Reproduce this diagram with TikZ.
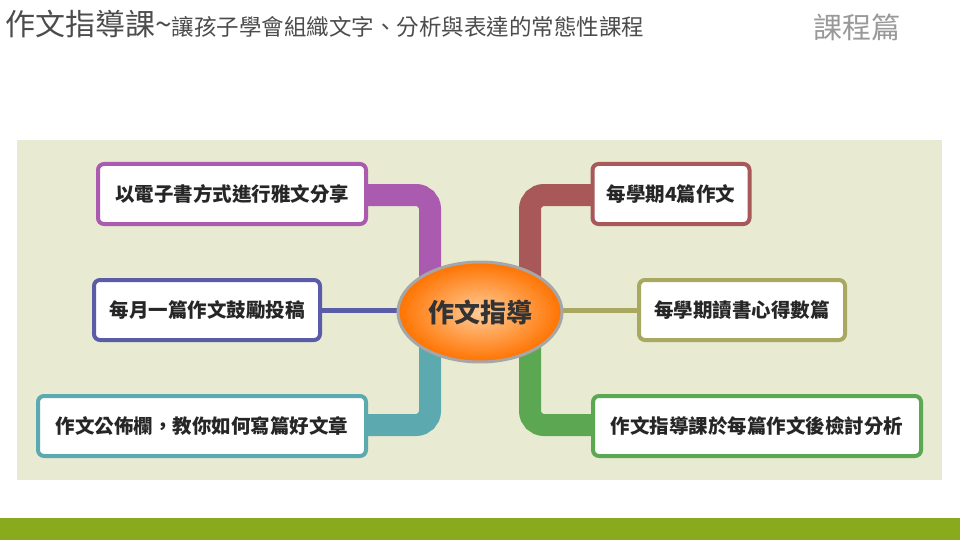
\documentclass[tikz,border=0pt]{standalone}
\usepackage{fontspec}
\newfontfamily\cjk{Noto Sans CJK TC}
\definecolor{cpur}{RGB}{170,90,175}
\definecolor{cteal}{RGB}{92,170,176}
\definecolor{cred}{RGB}{168,88,88}
\definecolor{cgreen}{RGB}{92,168,82}
\definecolor{cblue}{RGB}{90,92,168}
\definecolor{colive}{RGB}{168,168,96}
\definecolor{cpanel}{RGB}{232,235,210}
\definecolor{cbar}{RGB}{138,170,30}
\begin{document}
\begin{tikzpicture}[x=1pt,y=-1pt,
  box/.style={draw=#1,line width=4pt,rounded corners=6pt,fill=white,inner sep=0pt,font=\cjk\bfseries\fontsize{19.5}{22}\selectfont,text=black!85},
  band/.style={draw=#1,line width=22pt,rounded corners=14pt},
  thin/.style={draw=#1,line width=5pt}]
\useasboundingbox (0,0) rectangle (960,540);
\fill[white] (0,0) rectangle (960,540);
\fill[cbar] (0,518) rectangle (960,540);
\node[anchor=west,font=\cjk,text=black!70,inner sep=0pt] (t) at (5,24) {{\fontsize{30}{32}\selectfont 作文指導課\textasciitilde}{\fontsize{22.5}{24}\selectfont 讓孩子學會組織文字、分析與表達的常態性課程}};
\node[font=\cjk\fontsize{29}{30}\selectfont,text=black!40] (c) at (857,27) {課程篇};
\fill[cpanel] (17,140) rectangle (942,480);
\coordinate (cen) at (480,312);
\draw[band=cpur] (360,195) -- (430,195) -- (430,280);
\draw[band=cteal] (360,425) -- (430,425) -- (430,345);
\draw[band=cred] (600,195) -- (530,195) -- (530,280);
\draw[band=cgreen] (600,425) -- (530,425) -- (530,345);
\draw[thin=cblue] (315,310) -- (420,310);
\draw[thin=colive] (545,310) -- (645,310);
\shade[inner color=orange!40,outer color=orange!90!red,draw=gray!70,line width=3pt] (cen) ellipse [x radius=82,y radius=50];
\node[font=\cjk\bfseries\fontsize{26}{28}\selectfont,text=black!80] (m) at (cen) {作文指導};
\node[box=cpur,minimum width=268,minimum height=60] (b1) at (232,194) {以電子書方式進行雅文分享};
\node[box=cblue,minimum width=226,minimum height=60] (b2) at (207,310) {每月一篇作文鼓勵投稿};
\node[box=cteal,minimum width=328,minimum height=60] (b3) at (202,426) {作文公佈欄，教你如何寫篇好文章};
\node[box=cred,minimum width=157,minimum height=60] (b4) at (671,194) {每學期4篇作文};
\node[box=colive,minimum width=206,minimum height=60] (b5) at (742,310) {每學期讀書心得數篇};
\node[box=cgreen,minimum width=328,minimum height=60] (b6) at (757,426) {作文指導課於每篇作文後檢討分析};
\end{tikzpicture}
\end{document}
